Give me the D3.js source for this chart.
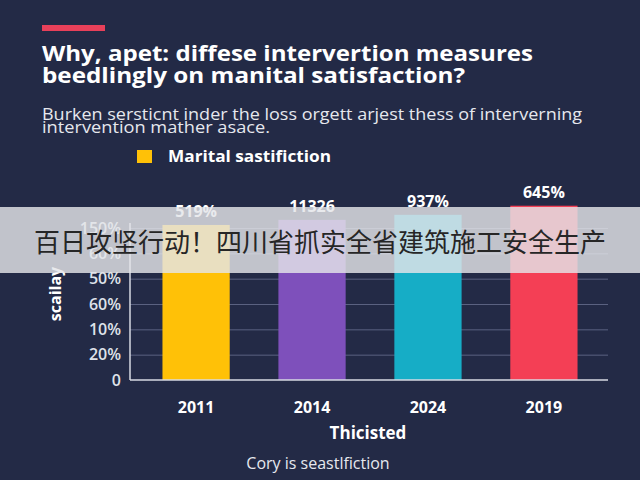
<!DOCTYPE html>
<html>
<head>
<meta charset="utf-8">
<script src="https://cdn.jsdelivr.net/npm/d3@7"></script>
<style>
  html, body { margin: 0; padding: 0; background: #232a46; }
  svg { display: block; }
</style>
</head>
<body>
<div id="chart"></div>
<script>
// dados
var anos = ["2011", "2014", "2024", "2019"];
var alturas = [153, 158, 163, 172];          // altura das barras na escala do eixo
var rotulos = ["519%", "11326", "937%", "645%"];
var cores = ["#ffc107", "#7e50bb", "#16adc6", "#f43f55"];
var ticksY = [0, 25, 50, 75, 100, 125, 150];
var ticksYTexto = ["0", "20%", "10%", "60%", "50%", "60%", "150%"];

var width = 640;
var height = 480;

var svg = d3.select('#chart').append('svg')
    .attr('width', width)
    .attr('height', height)
    .style('font-family', '"Open Sans", sans-serif');

svg.append('rect')
    .attr('width', width)
    .attr('height', height)
    .attr('fill', '#232a46');

// barra vermelha decorativa
svg.append('rect')
    .attr('x', 42).attr('y', 25)
    .attr('width', 63).attr('height', 6)
    .attr('fill', '#e8405a');

// titulo
var titulo = svg.append('text')
    .attr('fill', '#ffffff')
    .style('font-size', '22px')
    .style('font-weight', 700);
titulo.append('tspan').attr('x', 42).attr('y', 61)
    .attr('textLength', 491).attr('lengthAdjust', 'spacingAndGlyphs')
    .text('Why, apet: diffese intervertion measures');
titulo.append('tspan').attr('x', 42).attr('y', 83)
    .attr('textLength', 423).attr('lengthAdjust', 'spacingAndGlyphs')
    .text('beedlingly on manital satisfaction?');

// subtitulo (linhas bem juntas como no original)
var sub = svg.append('text')
    .attr('fill', '#e6e8ee')
    .style('font-size', '16px');
sub.append('tspan').attr('x', 42).attr('y', 120)
    .attr('textLength', 540).attr('lengthAdjust', 'spacingAndGlyphs')
    .text('Burken sersticnt inder the loss orgett arjest thess of interverning');
sub.append('tspan').attr('x', 42).attr('y', 133)
    .attr('textLength', 228).attr('lengthAdjust', 'spacingAndGlyphs')
    .text('intervention mather asace.');

// legenda
svg.append('rect')
    .attr('x', 137).attr('y', 150)
    .attr('width', 15).attr('height', 13)
    .attr('fill', cores[0]);
svg.append('text')
    .attr('x', 168).attr('y', 162)
    .attr('fill', '#ffffff')
    .style('font-size', '16px')
    .style('font-weight', 700)
    .attr('textLength', 163).attr('lengthAdjust', 'spacingAndGlyphs')
    .text('Marital sastifiction');

/******* escalas *******/
var x = d3.scaleBand()
    .domain(anos)
    .range([130, 610])
    .paddingInner(0.42)
    .paddingOuter(0.28);

var y = d3.scaleLinear()
    .domain([0, 150])
    .range([380, 228]);

// grelha
var grelha = svg.append('g')
    .attr('transform', 'translate(130,0)')
    .call(d3.axisLeft(y).tickValues(ticksY.slice(1)).tickSize(-478).tickFormat(''));
grelha.select('.domain').remove();
grelha.selectAll('line').attr('stroke', '#5a6180').attr('stroke-width', 1);

// barras
svg.append('g').selectAll('rect')
    .data(anos)
    .enter()
    .append('rect')
    .attr('x', function (d) { return x(d); })
    .attr('y', function (d, i) { return y(alturas[i]); })
    .attr('width', x.bandwidth())
    .attr('height', function (d, i) { return y(0) - y(alturas[i]); })
    .attr('fill', function (d, i) { return cores[i]; });

// rotulos das barras
svg.append('g').selectAll('text')
    .data(anos)
    .enter()
    .append('text')
    .attr('x', function (d) { return x(d) + x.bandwidth() / 2; })
    .attr('y', function (d, i) { return y(alturas[i]) - 8; })
    .attr('text-anchor', 'middle')
    .attr('fill', '#ffffff')
    .style('font-size', '16px')
    .style('font-weight', 700)
    .text(function (d, i) { return rotulos[i]; });

// eixo y
var eixoY = svg.append('g')
    .attr('transform', 'translate(130,0)')
    .call(d3.axisLeft(y).tickValues(ticksY).tickSize(0).tickPadding(9)
        .tickFormat(function (d, i) { return ticksYTexto[i]; }));
eixoY.select('.domain').attr('stroke', '#d7dae3').attr('stroke-width', 1.5)
    .attr('d', 'M0,' + (y(150) - 5) + 'V' + y(0));
eixoY.selectAll('text')
    .attr('fill', '#dfe2ea')
    .style('font-size', '16px')
    .style('font-weight', 600)
    .style('font-family', '"Open Sans", sans-serif');

// eixo x
var eixoX = svg.append('g')
    .attr('transform', 'translate(0,380)')
    .call(d3.axisBottom(x).tickSize(0).tickPadding(22));
eixoX.select('.domain').attr('stroke', '#d7dae3').attr('stroke-width', 1.5)
    .attr('d', 'M130,0H608');
eixoX.selectAll('text')
    .attr('fill', '#ffffff')
    .style('font-size', '16px')
    .style('font-weight', 700)
    .style('font-family', '"Open Sans", sans-serif');

// titulos dos eixos
svg.append('text')
    .attr('transform', 'translate(61,294) rotate(-90)')
    .attr('text-anchor', 'middle')
    .attr('fill', '#ffffff')
    .style('font-size', '16px')
    .style('font-weight', 700)
    .text('scailay');

svg.append('text')
    .attr('x', 368).attr('y', 439)
    .attr('text-anchor', 'middle')
    .attr('fill', '#ffffff')
    .style('font-size', '17px')
    .style('font-weight', 700)
    .text('Thicisted');

svg.append('text')
    .attr('x', 318).attr('y', 469)
    .attr('text-anchor', 'middle')
    .attr('fill', '#e6e8ee')
    .style('font-size', '16px')
    .text('Cory is seastlfiction');

// faixa cinzenta por cima
svg.append('rect')
    .attr('x', 0).attr('y', 207)
    .attr('width', width).attr('height', 66)
    .attr('fill', '#e4e5e9')
    .attr('fill-opacity', 0.82);
svg.append('text')
    .attr('x', 320).attr('y', 252)
    .attr('text-anchor', 'middle')
    .attr('fill', '#262626')
    .style('font-family', '"Noto Sans CJK SC", sans-serif')
    .style('font-size', '26px')
    .text('百日攻坚行动！四川省抓实全省建筑施工安全生产');
</script>
</body>
</html>
